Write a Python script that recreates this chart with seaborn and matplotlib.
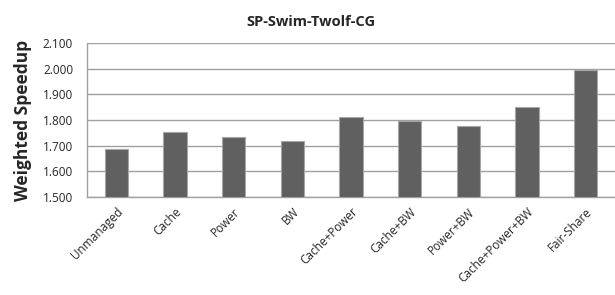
import matplotlib
matplotlib.use("Agg")
import matplotlib.pyplot as plt
import seaborn as sns
import pandas as pd

# Chart values
configs = ['Unmanaged', 'Cache', 'Power', 'BW', 'Cache+Power',
           'Cache+BW', 'Power+BW', 'Cache+Power+BW', 'Fair-Share']
speedup = [1.686, 1.752, 1.734, 1.719, 1.812, 1.798, 1.778, 1.852, 1.994]
yticks = [1.5, 1.6, 1.7, 1.8, 1.9, 2.0, 2.1]

data = pd.DataFrame({'config': configs, 'speedup': speedup})

sns.set_style('white')
plt.rcParams['font.family'] = ['Open Sans', 'DejaVu Sans']

fig = plt.figure(figsize=(6.15, 2.95), dpi=100)
ax = fig.add_axes([87 / 615, 1 - 197 / 295, 528 / 615, 154 / 295])

sns.barplot(data=data, x='config', y='speedup', color='#606060',
            width=0.4, edgecolor='#a6a6a6', linewidth=0.8, ax=ax,
            saturation=1, zorder=3)

ax.set_ylim(1.5, 2.1)
ax.set_yticks(yticks)
ax.set_yticklabels(['%.3f' % v for v in yticks], fontsize=8.5)
ax.yaxis.grid(True, color='#a0a0a0', linewidth=1)
ax.set_axisbelow(True)
ax.tick_params(axis='y', length=4, color='#a0a0a0', width=1, pad=6)
ax.tick_params(axis='x', length=0, pad=6)
plt.setp(ax.get_xticklabels(), rotation=45, ha='right',
         rotation_mode='anchor', fontsize=8.5)

for side in ['top', 'right']:
    ax.spines[side].set_visible(False)
for side in ['left', 'bottom']:
    ax.spines[side].set_color('#a0a0a0')
    ax.spines[side].set_linewidth(1)

ax.set_xlabel('')
ax.set_ylabel('Weighted Speedup', fontsize=12.5, fontweight='bold', labelpad=8)
ax.set_title('SP-Swim-Twolf-CG', fontsize=10.5, fontweight='bold', x=(311 - 87) / 528, pad=12)

fig.savefig('out.png', dpi=100)
